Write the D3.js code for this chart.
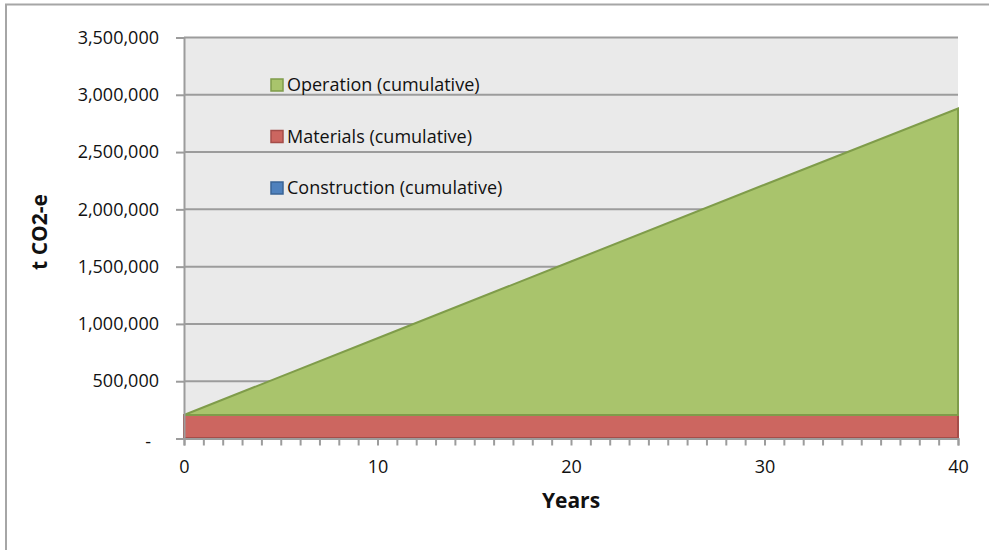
<!DOCTYPE html>
<html><head><meta charset="utf-8">
<script src="https://cdn.jsdelivr.net/npm/d3@7"></script>
<style>
html,body{margin:0;padding:0;background:#fff;}
svg{display:block;font-family:"Open Sans",sans-serif;}
</style></head>
<body>
<svg id="chart" width="989" height="550"></svg>
<script>
// ---- data ----
const years = [0, 10, 20, 30, 40];
const construction = [5000, 5000, 5000, 5000, 5000];
const materials = [200000, 200000, 200000, 200000, 200000];
const operation = [0, 670000, 1340000, 2010000, 2675000];
const seriesNames = ["Construction (cumulative)", "Materials (cumulative)", "Operation (cumulative)"];
const yTicks = [0, 500000, 1000000, 1500000, 2000000, 2500000, 3000000, 3500000];
const xTickLabels = [0, 10, 20, 30, 40];

const fills = ["#4F81BD", "#CC6660", "#A9C46C"];
const strokes = ["#3A6496", "#A54D49", "#7F9C4A"];

const svg = d3.select("#chart");
const m = {l: 184, r: 958, t: 37.5, b: 438.5};

const x = d3.scaleLinear().domain([0, 40]).range([m.l, m.r]);
const y = d3.scaleLinear().domain([0, 3500000]).range([m.b, m.t]);

// outer frame
svg.append("rect").attr("x", 6).attr("y", 4.5).attr("width", 1100).attr("height", 700)
  .attr("fill", "none").attr("stroke", "#a6a6a6").attr("stroke-width", 2);

// plot background
svg.append("rect").attr("x", m.l).attr("y", m.t).attr("width", m.r - m.l).attr("height", m.b - m.t)
  .attr("fill", "#EAEAEA");

// gridlines
svg.append("g").selectAll("line").data(yTicks.filter(d => d > 0)).join("line")
  .attr("x1", m.l).attr("x2", m.r).attr("y1", d => y(d)).attr("y2", d => y(d))
  .attr("stroke", "#9c9c9c").attr("stroke-width", 2);

// stacked data
const rows = years.map((yr, i) => ({year: yr, c: construction[i], m: materials[i], o: operation[i]}));
const stack = d3.stack().keys(["c", "m", "o"]);
const layers = stack(rows);

const area = d3.area().x(d => x(d.data.year)).y0(d => y(d[0])).y1(d => y(d[1]));

svg.append("g").selectAll("path").data(layers).join("path")
  .attr("d", area)
  .attr("fill", (d, i) => fills[i])
  .attr("stroke", (d, i) => strokes[i])
  .attr("stroke-width", 2)
  .attr("stroke-linejoin", "miter");

// y axis
const yAxis = d3.axisLeft(y).tickValues(yTicks).tickSize(8).tickPadding(17)
  .tickFormat(d => d === 0 ? "-" : d3.format(",")(d));
const gy = svg.append("g").attr("transform", `translate(${m.l},0)`).call(yAxis);
gy.select(".domain").attr("stroke", "#9c9c9c").attr("stroke-width", 2);
gy.selectAll(".tick line").attr("stroke", "#9c9c9c").attr("stroke-width", 2);
gy.selectAll(".tick text").attr("font-size", 18).attr("fill", "#111").attr("font-family", "Open Sans");
gy.selectAll(".tick").filter(d => d === 0).select("text").attr("x", -33).attr("dy", "0.5em");

// x axis: ticks every year, labels every 10
const gx = svg.append("g").attr("transform", `translate(0,${m.b})`)
  .call(d3.axisBottom(x).tickValues(d3.range(0, 41)).tickSize(7).tickPadding(15)
    .tickFormat(d => xTickLabels.includes(d) ? d : ""));
gx.select(".domain").attr("stroke", "#9c9c9c").attr("stroke-width", 2);
gx.selectAll(".tick line").attr("stroke", "#9c9c9c").attr("stroke-width", 2);
gx.selectAll(".tick text").attr("font-size", 18).attr("fill", "#111").attr("font-family", "Open Sans");

// axis titles
svg.append("text").attr("x", 571).attr("y", 508).attr("text-anchor", "middle")
  .attr("font-weight", "bold").attr("font-size", 21).attr("fill", "#111").text("Years");
svg.append("text").attr("transform", "translate(47,232) rotate(-90)").attr("text-anchor", "middle")
  .attr("font-weight", "bold").attr("font-size", 21).attr("fill", "#111").text("t CO2-e");

// legend (top to bottom: Operation, Materials, Construction)
const legendY = [188, 136.5, 85];
const lg = svg.append("g");
seriesNames.forEach((name, i) => {
  lg.append("rect").attr("x", 271).attr("y", legendY[i] - 6).attr("width", 12).attr("height", 12)
    .attr("fill", fills[i]).attr("stroke", strokes[i]).attr("stroke-width", 1.5);
  lg.append("text").attr("x", 287).attr("y", legendY[i]).attr("dy", "0.35em")
    .attr("font-size", 18).attr("fill", "#111").text(name);
});
</script>
</body></html>
